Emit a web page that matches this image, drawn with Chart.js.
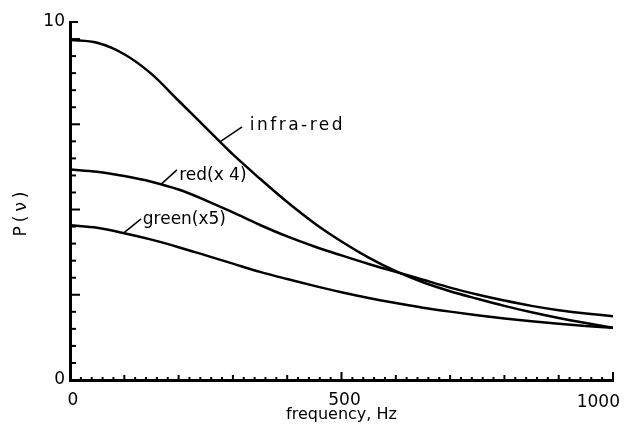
<!DOCTYPE html>
<html>
<head>
<meta charset="utf-8">
<script src="https://cdn.jsdelivr.net/npm/chart.js@4.4.1/dist/chart.umd.min.js"></script>
<style>
  html, body { margin: 0; padding: 0; background: #fff; }
  #wrap { width: 630px; height: 435px; }
</style>
</head>
<body>
<div id="wrap"><canvas id="psdChart"></canvas></div>
<script>
// --- data ---
const freq = [0, 50, 100, 150, 200, 250, 300, 350, 400, 450, 500, 550, 600, 650, 700, 750, 800, 850, 900, 950, 1000];
const infraRed = [9.50, 9.42, 9.10, 8.55, 7.80, 7.05, 6.30, 5.62, 4.97, 4.38, 3.87, 3.42, 3.04, 2.73, 2.48, 2.27, 2.07, 1.89, 1.73, 1.59, 1.46];
const red = [5.88, 5.82, 5.70, 5.54, 5.32, 5.02, 4.68, 4.33, 4.01, 3.73, 3.48, 3.24, 3.02, 2.80, 2.58, 2.39, 2.22, 2.07, 1.95, 1.86, 1.78];
const green = [4.32, 4.25, 4.10, 3.92, 3.71, 3.48, 3.25, 3.02, 2.82, 2.63, 2.45, 2.29, 2.15, 2.02, 1.91, 1.81, 1.72, 1.64, 1.57, 1.51, 1.46];

const xTickLabels = [0, 500, 1000];
const yTickLabels = [0, 10];
const xMinorStep = 20;     // small ticks every 20 Hz
const yDivisions = 21;     // the vertical axis is cut in 21 small steps

// curve names with their leader lines (data units)
const curveNames = ['infra-red', 'red(x 4)', 'green(x5)'];
const nameAt = [[331, 7.12], [201, 5.72], [134, 4.48]];
const leaderFrom = [[276, 6.65], [168, 5.47], [99, 4.11]];
const leaderTo = [[317, 7.07], [197, 5.87], [131, 4.50]];

const FONT = '"DejaVu Sans", sans-serif';

function toPoints(values) {
    return freq.map((f, i) => ({ x: f, y: values[i] }));
}

// inward ticks, labels, titles and curve names
const axisDecor = {
    id: 'axisDecor',
    afterDraw(chart) {
        const ctx = chart.ctx;
        const xs = chart.scales.x;
        const ys = chart.scales.y;
        const area = chart.chartArea;

        ctx.save();
        ctx.strokeStyle = '#000';
        ctx.fillStyle = '#000';
        ctx.lineCap = 'butt';

        // x ticks, pointing up
        ctx.lineWidth = 2;
        for (let f = 0; f <= 1000; f += xMinorStep) {
            const px = xs.getPixelForValue(f);
            const len = f % 500 === 0 ? 8 : (f % 100 === 0 ? 5 : 3);
            ctx.beginPath();
            ctx.moveTo(px, area.bottom);
            ctx.lineTo(px, area.bottom - len);
            ctx.stroke();
        }

        // y ticks, pointing right
        for (let i = 0; i <= yDivisions; i++) {
            const py = ys.getPixelForValue(10 * i / yDivisions);
            const len = i === yDivisions ? 8 : (i % 5 === 0 ? 10 : 6);
            ctx.beginPath();
            ctx.moveTo(area.left, py);
            ctx.lineTo(area.left + len, py);
            ctx.stroke();
        }

        // tick labels
        ctx.font = '17px ' + FONT;
        ctx.textBaseline = 'middle';
        ctx.textAlign = 'right';
        yTickLabels.forEach(v => {
            ctx.fillText(String(v), area.left - 5, ys.getPixelForValue(v));
        });
        ctx.textBaseline = 'top';
        xTickLabels.forEach((f, i) => {
            const px = xs.getPixelForValue(f);
            if (i === xTickLabels.length - 1) {
                ctx.textAlign = 'right';
                ctx.fillText(String(f), px + 7, area.bottom + 14);
            } else {
                ctx.textAlign = 'center';
                ctx.fillText(String(f), px + 3, area.bottom + 12);
            }
        });

        // axis titles
        ctx.font = '16px ' + FONT;
        ctx.textAlign = 'center';
        ctx.textBaseline = 'middle';
        ctx.fillText('frequency, Hz', (area.left + area.right) / 2, area.bottom + 35);

        ctx.save();
        ctx.translate(22, 214);
        ctx.rotate(-Math.PI / 2);
        ctx.font = '17px ' + FONT;
        ctx.letterSpacing = '4px';
        ctx.fillText('P(\u03bd)', 2, 0);
        ctx.restore();

        // curve names and leaders
        ctx.lineWidth = 1.5;
        curveNames.forEach((name, i) => {
            ctx.beginPath();
            ctx.moveTo(xs.getPixelForValue(leaderFrom[i][0]), ys.getPixelForValue(leaderFrom[i][1]));
            ctx.lineTo(xs.getPixelForValue(leaderTo[i][0]), ys.getPixelForValue(leaderTo[i][1]));
            ctx.stroke();

            ctx.font = '17px ' + FONT;
            ctx.letterSpacing = i === 0 ? '2.5px' : '0px';
            ctx.textAlign = 'left';
            ctx.textBaseline = 'middle';
            ctx.fillText(name, xs.getPixelForValue(nameAt[i][0]), ys.getPixelForValue(nameAt[i][1]));
        });
        ctx.restore();
    }
};

const lineStyle = {
    borderColor: '#000',
    borderWidth: 2.5,
    pointRadius: 0,
    fill: false,
    cubicInterpolationMode: 'monotone'
};

const ctx = document.getElementById('psdChart').getContext('2d');
const psdChart = new Chart(ctx, {
    type: 'line',
    data: {
        datasets: [
            Object.assign({ label: 'infra-red', data: toPoints(infraRed) }, lineStyle),
            Object.assign({ label: 'red(x 4)', data: toPoints(red) }, lineStyle),
            Object.assign({ label: 'green(x5)', data: toPoints(green) }, lineStyle)
        ]
    },
    options: {
        responsive: true,
        maintainAspectRatio: false,
        animation: false,
        layout: { padding: { left: 62, right: 17, top: 22, bottom: 47 } },
        scales: {
            x: {
                type: 'linear',
                min: 0,
                max: 1000,
                grid: { display: false },
                ticks: { display: false },
                border: { display: true, color: '#000', width: 3 }
            },
            y: {
                min: 0,
                max: 10,
                grid: { display: false },
                ticks: { display: false },
                border: { display: true, color: '#000', width: 3 }
            }
        },
        plugins: {
            legend: { display: false },
            tooltip: { enabled: false }
        }
    },
    plugins: [axisDecor]
});
</script>
</body>
</html>
